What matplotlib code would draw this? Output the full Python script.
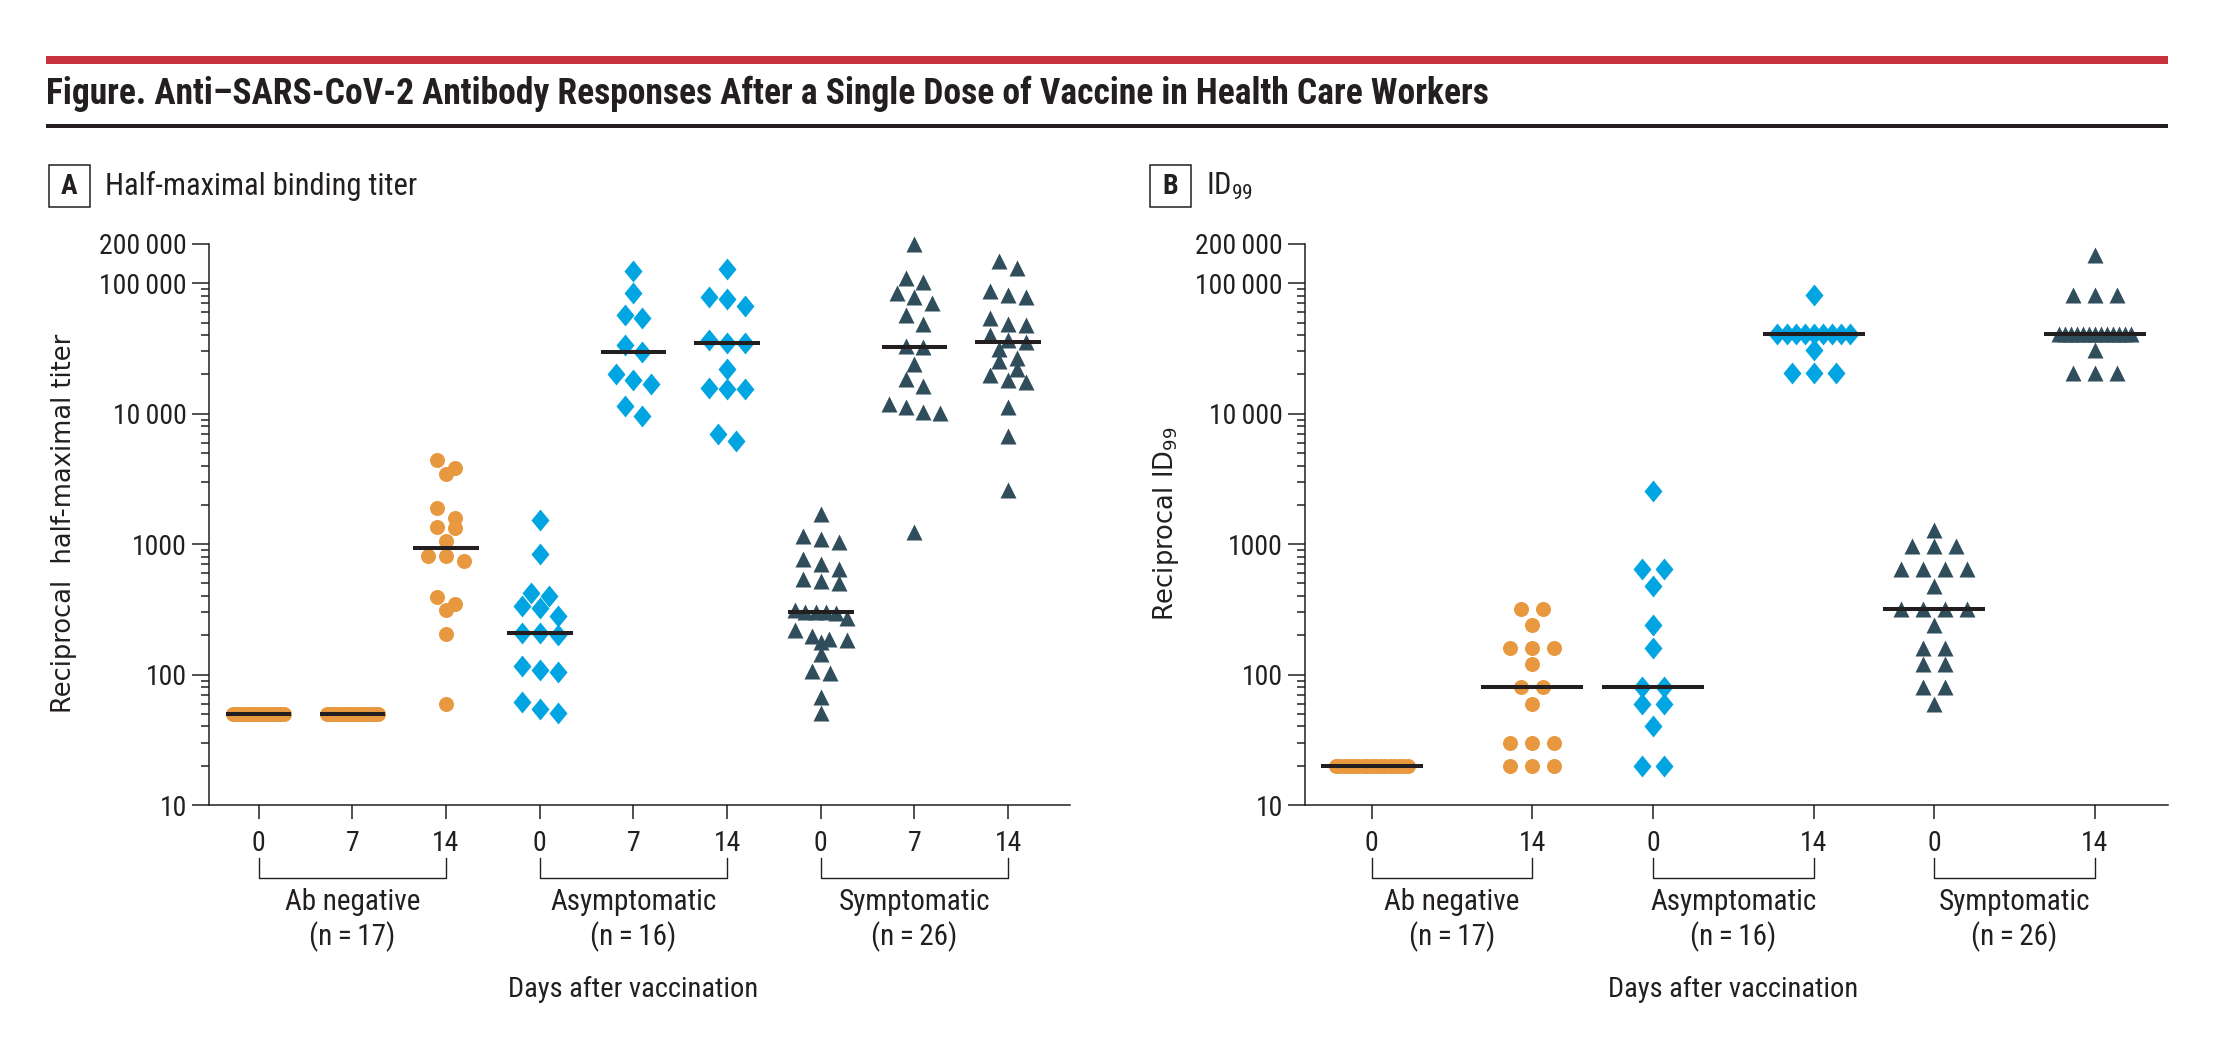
import numpy as np
import matplotlib
matplotlib.use('Agg')
import matplotlib.pyplot as plt
from matplotlib import font_manager
from matplotlib.path import Path
from matplotlib.patches import Rectangle
from matplotlib.ticker import LogLocator, NullFormatter


# ---- data ----
# panel A: half-maximal binding titer
a_neg_d0 = [50, 50, 50, 50, 50, 50, 50, 50, 50, 50, 50, 50, 50, 50, 50, 50, 50]
a_neg_d7 = [50, 50, 50, 50, 50, 50, 50, 50, 50, 50, 50, 50, 50, 50, 50, 50, 50]
a_neg_d14 = [4450, 3820, 3440, 1880, 1590, 1350, 1320, 1050, 810, 810, 745,
             395, 345, 315, 205, 60]
a_asym_d0 = [1540, 845, 425, 400, 335, 325, 280, 207, 207, 200, 116, 109, 104,
             62, 54, 51]
a_asym_d7 = [125000, 84000, 57000, 54500, 33600, 29800, 20300, 18000, 16800,
             11400, 9600]
a_asym_d14 = [128000, 78500, 76000, 66500, 37000, 34700, 34700, 21900, 15700,
              15600, 15400, 7000, 6200]
a_sym_d0 = [1700, 1145, 1090, 1030, 770, 700, 650, 540, 520, 500, 313, 301, 301,
            300, 298, 273, 219, 197, 186, 183, 177, 143, 106, 103, 67, 51]
a_sym_d7 = [200000, 109000, 103000, 84000, 78000, 70000, 57000, 49000, 33200,
            32200, 24200, 18300, 16300, 11800, 11250, 10300, 10100, 1230]
a_sym_d14 = [149000, 132000, 87000, 81000, 79000, 54000, 49000, 48000, 40000,
             36600, 35500, 31600, 26800, 25200, 21900, 19700, 18000, 17500,
             11250, 6700, 2620]

# panel B: ID99
b_neg_d0 = [20, 20, 20, 20, 20, 20, 20, 20, 20, 20, 20, 20, 20, 20, 20, 20, 20]
b_neg_d14 = [320, 320, 240, 160, 160, 160, 120, 80, 80, 60, 30, 30, 30, 20, 20, 20]
b_asym_d0 = [2560, 640, 640, 480, 240, 160, 80, 80, 60, 60, 40, 20, 20]
b_asym_d14 = [81920, 40960, 40960, 40960, 40960, 40960, 40960, 40960, 40960,
              40960, 30720, 20480, 20480, 20480]
b_sym_d0 = [1280, 960, 960, 960, 640, 640, 640, 640, 480, 320, 320, 320, 320,
            240, 160, 160, 120, 120, 80, 80, 60]
b_sym_d14 = [163840, 81920, 81920, 81920, 40960, 40960, 40960, 40960, 40960,
             40960, 40960, 40960, 40960, 40960, 40960, 40960, 40960, 30720,
             20480, 20480, 20480]

groups = ['Ab negative', 'Asymptomatic', 'Symptomatic']
group_n = [17, 16, 26]
days_a = ['0', '7', '14']
days_b = ['0', '14']
ytick_vals = [10, 100, 1000, 10000, 100000, 200000]
ytick_text = ['10', '100', '1000', '10\u2009000', '100\u2009000', '200\u2009000']


def pick_font(names):
    have = {f.name for f in font_manager.fontManager.ttflist}
    for n in names:
        if n in have:
            return n
    return 'DejaVu Sans'


NARROW = pick_font(['Liberation Sans Narrow', 'DejaVu Sans Condensed',
                    'Roboto Condensed', 'Liberation Sans'])
plt.rcParams['font.family'] = [NARROW, 'DejaVu Sans']

INK = '#231F20'
RED = '#C8323C'
ORANGE = '#E8983F'
BLUE = '#00A5E2'
SLATE = '#2F4D5B'
DIAMOND = Path([(0, 1), (0.82, 0), (0, -1), (-0.82, 0), (0, 1)],
               [Path.MOVETO, Path.LINETO, Path.LINETO, Path.LINETO, Path.CLOSEPOLY])
style = {'neg': ('o', ORANGE, 10.8), 'asym': (DIAMOND, BLUE, 15.8),
         'sym': ('^', SLATE, 11.2)}

W, H = 2232, 1040
LAB = 21     # group labels
TICK = 20


def spread(vals, step, maxw, tol=0.09):
    # prism-like scatter: points at about the same height go side by side
    v = np.log10(np.asarray(vals, dtype=float))
    order = np.argsort(-v, kind='stable')
    offs = np.zeros(len(v))
    rows = []
    for i in order:
        if rows and v[rows[-1][0]] - v[i] < tol:
            rows[-1].append(i)
        else:
            rows.append([i])
    for r in rows:
        n = len(r)
        s = step if (n - 1) * step <= maxw else maxw / (n - 1)
        offs[r] = (np.arange(n) - (n - 1) / 2) * s
    return offs


def column(ax, x, vals, kind, step, maxw, half):
    mk, col, ms = style[kind]
    offs = spread(vals, step, maxw)
    ax.plot(x + offs, vals, ls='none', marker=mk, ms=ms, color=col, mec='none',
            clip_on=False, zorder=3)
    m = np.median(vals)
    ax.plot([x - half, x + half], [m, m], color=INK, lw=2.9,
            solid_capstyle='butt', clip_on=False, zorder=4)


def setup(ax, pos, daylab, spans, xlim):
    ax.set_yscale('log')
    ax.set_ylim(10, 200000)
    ax.set_xlim(*xlim)
    ax.set_yticks(ytick_vals)
    ax.set_yticklabels(ytick_text)
    ax.yaxis.set_minor_locator(LogLocator(base=10, subs=np.arange(2, 10)))
    ax.yaxis.set_minor_formatter(NullFormatter())
    ax.set_xticks(pos)
    ax.set_xticklabels(daylab * 3)
    for s in ['top', 'right']:
        ax.spines[s].set_visible(False)
    for s in ['left', 'bottom']:
        ax.spines[s].set_linewidth(1.1)
        ax.spines[s].set_color(INK)
    ax.tick_params(axis='y', which='major', length=12, width=1.1, labelsize=TICK,
                   pad=4, colors=INK)
    ax.tick_params(axis='y', which='minor', length=6, width=1.1, colors=INK)
    ax.tick_params(axis='x', length=10, width=1.1, labelsize=TICK, pad=8, colors=INK)
    tr = ax.get_xaxis_transform()
    for (x0, x1), g, n in zip(spans, groups, group_n):
        ax.plot([x0, x0, x1, x1], [-0.0945, -0.130, -0.130, -0.0945], color=INK,
                lw=1.0, transform=tr, clip_on=False)
        ax.text((x0 + x1) / 2, -0.173, g, transform=tr, ha='center', va='center',
                fontsize=LAB, color=INK)
        ax.text((x0 + x1) / 2, -0.235, '(n\u2009=\u2009%d)' % n, transform=tr,
                ha='center', va='center', fontsize=LAB, color=INK)
    ax.text((pos[0] + pos[-1]) / 2, -0.328, 'Days after vaccination', transform=tr,
            ha='center', va='center', fontsize=20.5, color=INK)


fig = plt.figure(figsize=(W / 100, H / 100), dpi=100)

# header rules and title
fig.patches.append(Rectangle((46 / W, 1 - 64 / H), (2168 - 46) / W, 8 / H,
                             transform=fig.transFigure, color=RED, lw=0))
fig.patches.append(Rectangle((46 / W, 1 - 128 / H), (2168 - 46) / W, 4 / H,
                             transform=fig.transFigure, color=INK, lw=0))
fig.text(46 / W, 1 - 94 / H, 'Figure. Anti\u2013SARS-CoV-2 Antibody Responses After a '
         'Single Dose of Vaccine in Health Care Workers', fontsize=25.6,
         fontweight='bold', ha='left', va='center', color=INK)


def panel_tag(x0, letter, title):
    fig.patches.append(Rectangle((x0 / W, 1 - 207 / H), 41 / W, 42 / H,
                                 transform=fig.transFigure, fill=False,
                                 ec=INK, lw=1.1))
    fig.text((x0 + 20.5) / W, 1 - 186 / H, letter, fontsize=20, fontweight='bold',
             ha='center', va='center', color=INK)
    fig.text((x0 + 56) / W, 1 - 186 / H, title, fontsize=22, ha='left',
             va='center', color=INK)


panel_tag(49, 'A', 'Half-maximal binding titer')
panel_tag(1150, 'B', 'ID$_\\mathregular{99}$')

# panel A
axA = fig.add_axes([209 / W, 1 - 805 / H, (1070 - 209) / W, (805 - 244) / H])
posA = np.arange(9)
colsA = [(a_neg_d0, 'neg'), (a_neg_d7, 'neg'), (a_neg_d14, 'neg'),
         (a_asym_d0, 'asym'), (a_asym_d7, 'asym'), (a_asym_d14, 'asym'),
         (a_sym_d0, 'sym'), (a_sym_d7, 'sym'), (a_sym_d14, 'sym')]
for x, (vals, kind) in zip(posA, colsA):
    column(axA, x, vals, kind, step=0.19, maxw=0.55, half=0.35)
setup(axA, posA, days_a, [(0, 2), (3, 5), (6, 8)], (-0.53, 8.66))
fig.text(64 / W, 1 - 523 / H, 'Reciprocal  half-maximal titer', rotation=90,
         ha='center', va='center', fontsize=18.5, family='DejaVu Sans', color=INK)

# panel B
axB = fig.add_axes([1305 / W, 1 - 805 / H, (2168 - 1305) / W, (805 - 244) / H])
posB = np.array([0, 4, 7, 11, 14, 18])
colsB = [(b_neg_d0, 'neg'), (b_neg_d14, 'neg'), (b_asym_d0, 'asym'),
         (b_asym_d14, 'asym'), (b_sym_d0, 'sym'), (b_sym_d14, 'sym')]
for x, (vals, kind) in zip(posB, colsB):
    column(axB, x, vals, kind, step=0.55, maxw=1.8, half=1.27)
setup(axB, posB, days_b, [(0, 4), (7, 11), (14, 18)], (-1.66, 19.82))
fig.text(1166 / W, 1 - 524 / H, 'Reciprocal ID$_{99}$', rotation=90,
         ha='center', va='center', fontsize=18.5, family='DejaVu Sans', color=INK)

fig.savefig('out.png', dpi=100)
